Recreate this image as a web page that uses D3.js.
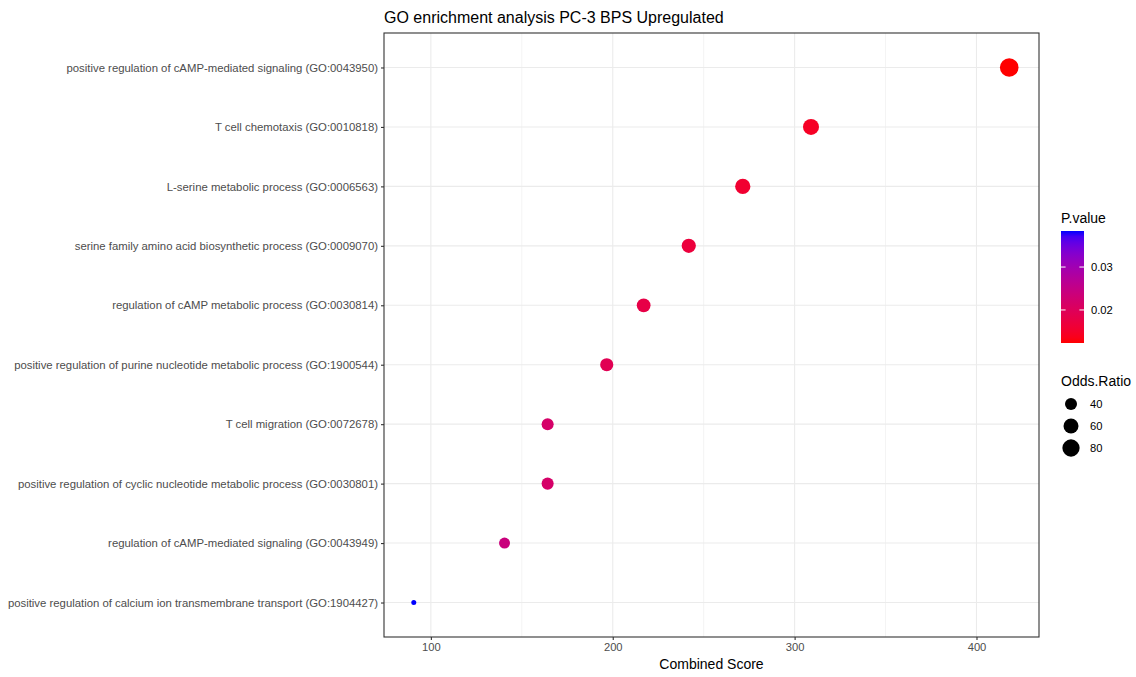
<!DOCTYPE html>
<html>
<head>
<meta charset="utf-8">
<script src="https://cdn.jsdelivr.net/npm/d3@7"></script>
<style>
  body { margin: 0; background: #fff; }
  text { font-family: "Liberation Sans", Arial, sans-serif; }
</style>
</head>
<body>
<svg id="chart" width="1136" height="677"></svg>
<script>
// data, top row first
var terms = [
  "positive regulation of cAMP-mediated signaling (GO:0043950)",
  "T cell chemotaxis (GO:0010818)",
  "L-serine metabolic process (GO:0006563)",
  "serine family amino acid biosynthetic process (GO:0009070)",
  "regulation of cAMP metabolic process (GO:0030814)",
  "positive regulation of purine nucleotide metabolic process (GO:1900544)",
  "T cell migration (GO:0072678)",
  "positive regulation of cyclic nucleotide metabolic process (GO:0030801)",
  "regulation of cAMP-mediated signaling (GO:0043949)",
  "positive regulation of calcium ion transmembrane transport (GO:1904427)"
];
var combinedScore = [418.0, 309.0, 271.5, 241.8, 217.0, 196.7, 164.2, 164.2, 140.5, 90.6];
var pValue = [0.0123, 0.0145, 0.0156, 0.0167, 0.0179, 0.0193, 0.0217, 0.0217, 0.0240, 0.0384];
var oddsRatio = [85, 62, 56, 49, 46, 42, 36, 36, 31, 18];
var xTicks = [100, 200, 300, 400];
var xMinor = [150, 250, 350];
var pTicks = [0.02, 0.03];
var oddsTicks = [40, 60, 80];

var svg = d3.select("#chart");
var pLeft = 384, pRight = 1039, pTop = 33, pBottom = 637;

// ggplot style 5% expansion
var xmin = d3.min(combinedScore), xmax = d3.max(combinedScore);
var pad = (xmax - xmin) * 0.05;
var x = d3.scaleLinear().domain([xmin - pad, xmax + pad]).range([pLeft, pRight]);

var y = d3.scalePoint().domain(terms).range([pTop, pBottom]).padding(0.58);

var pExt = d3.extent(pValue);
var color = d3.scaleLinear().domain(pExt).range(["red", "blue"]).interpolate(d3.interpolateLab);

var oExt = d3.extent(oddsRatio);
var sizeT = d3.scaleLinear().domain(oExt).range([0, 1]);
function radius(v) {
  var t = Math.max(0, sizeT(v));
  return 2.5 + 6.8 * Math.sqrt(t);
}

svg.append("rect").attr("width", 1136).attr("height", 677).attr("fill", "#fff");

// grid
var grid = svg.append("g");
grid.selectAll(".minor").data(xMinor).enter().append("line")
  .attr("x1", d => x(d)).attr("x2", d => x(d))
  .attr("y1", pTop).attr("y2", pBottom)
  .attr("stroke", "#EBEBEB").attr("stroke-width", 0.6);
grid.selectAll(".major").data(xTicks).enter().append("line")
  .attr("x1", d => x(d)).attr("x2", d => x(d))
  .attr("y1", pTop).attr("y2", pBottom)
  .attr("stroke", "#EBEBEB").attr("stroke-width", 1.1);
grid.selectAll(".hmajor").data(terms).enter().append("line")
  .attr("x1", pLeft).attr("x2", pRight)
  .attr("y1", d => y(d)).attr("y2", d => y(d))
  .attr("stroke", "#EBEBEB").attr("stroke-width", 1.1);

// points
svg.append("g").selectAll("circle").data(terms).enter().append("circle")
  .attr("cx", (d, i) => x(combinedScore[i]))
  .attr("cy", d => y(d))
  .attr("r", (d, i) => radius(oddsRatio[i]))
  .attr("fill", (d, i) => color(pValue[i]));

// border
svg.append("rect").attr("x", pLeft).attr("y", pTop)
  .attr("width", pRight - pLeft).attr("height", pBottom - pTop)
  .attr("fill", "none").attr("stroke", "#333").attr("stroke-width", 1.1);

// axes
var xAxis = d3.axisBottom(x).tickValues(xTicks).tickSize(3).tickPadding(3);
var gx = svg.append("g").attr("transform", "translate(0," + pBottom + ")").call(xAxis);
gx.select(".domain").remove();
gx.selectAll(".tick line").attr("stroke", "#333").attr("stroke-width", 1.1);
gx.selectAll(".tick text").attr("fill", "#4D4D4D").style("font-size", "11.2px")
  .style("font-family", "Liberation Sans, Arial, sans-serif");

var yAxis = d3.axisLeft(y).tickSize(3).tickPadding(3);
var gy = svg.append("g").attr("transform", "translate(" + pLeft + ",0)").call(yAxis);
gy.select(".domain").remove();
gy.selectAll(".tick line").attr("stroke", "#333").attr("stroke-width", 1.1);
gy.selectAll(".tick text").attr("fill", "#4D4D4D").style("font-size", "11.35px")
  .style("font-family", "Liberation Sans, Arial, sans-serif");

// titles
svg.append("text").attr("x", pLeft).attr("y", 23)
  .style("font-size", "16px").attr("fill", "#000")
  .text("GO enrichment analysis PC-3 BPS Upregulated");
svg.append("text").attr("x", (pLeft + pRight) / 2).attr("y", 669)
  .attr("text-anchor", "middle").style("font-size", "14px").attr("fill", "#000")
  .text("Combined Score");

// colour legend
var barX = 1061, barW = 23, barTop = 231, barBot = 343;
svg.append("text").attr("x", barX).attr("y", 223)
  .style("font-size", "14px").text("P.value");
var grad = svg.append("defs").append("linearGradient").attr("id", "pgrad")
  .attr("x1", 0).attr("y1", 1).attr("x2", 0).attr("y2", 0);
d3.range(0, 1.0001, 0.05).forEach(function (t) {
  grad.append("stop").attr("offset", t)
    .attr("stop-color", color(pExt[0] + t * (pExt[1] - pExt[0])));
});
svg.append("rect").attr("x", barX).attr("y", barTop)
  .attr("width", barW).attr("height", barBot - barTop).attr("fill", "url(#pgrad)");
var py = d3.scaleLinear().domain(pExt).range([barBot, barTop]);
var pk = svg.append("g").selectAll("g").data(pTicks).enter().append("g");
pk.append("line").attr("x1", barX).attr("x2", barX + 4.6)
  .attr("y1", d => py(d)).attr("y2", d => py(d)).attr("stroke", "#fff");
pk.append("line").attr("x1", barX + barW - 4.6).attr("x2", barX + barW)
  .attr("y1", d => py(d)).attr("y2", d => py(d)).attr("stroke", "#fff");
pk.append("text").attr("x", barX + barW + 7).attr("y", d => py(d) + 4)
  .style("font-size", "11.2px").attr("fill", "#000").text(d => d3.format(".2f")(d));

// size legend
svg.append("text").attr("x", barX).attr("y", 386)
  .style("font-size", "14px").text("Odds.Ratio");
var sk = svg.append("g").selectAll("g").data(oddsTicks).enter().append("g")
  .attr("transform", (d, i) => "translate(0," + (404 + i * 22) + ")");
sk.append("circle").attr("cx", 1071).attr("cy", 0).attr("r", d => radius(d) - 0.4).attr("fill", "#000");
sk.append("text").attr("x", 1090).attr("y", 4).style("font-size", "11.2px").text(d => d);
</script>
</body>
</html>
